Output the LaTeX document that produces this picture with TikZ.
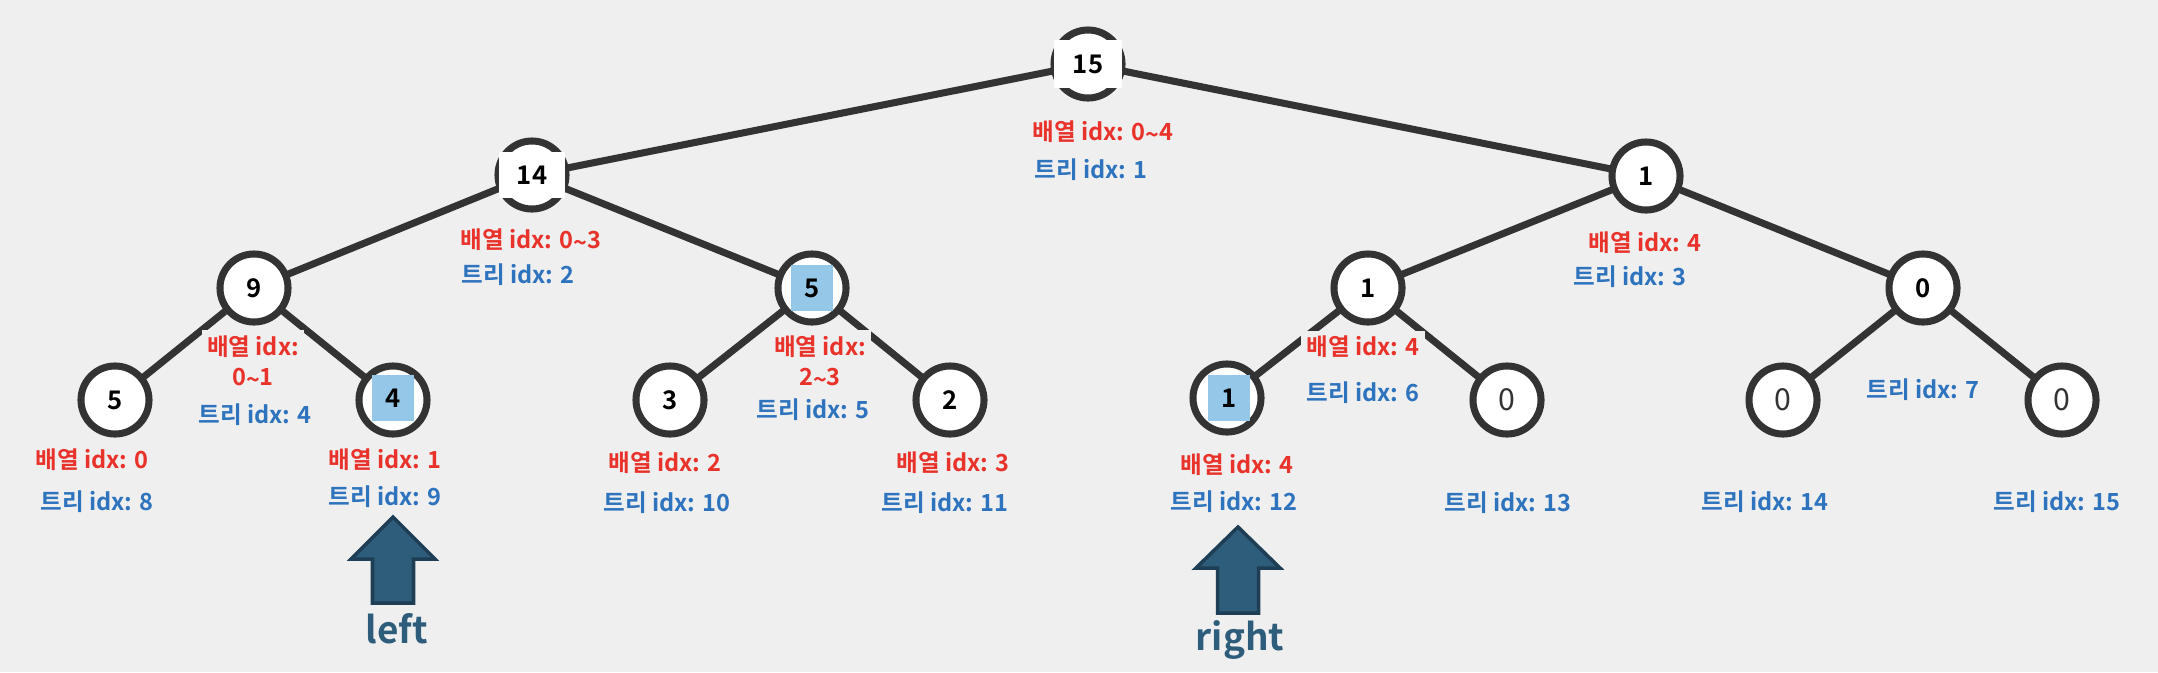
\documentclass[tikz,border=0pt]{standalone}
\usepackage{fontspec}
\setmainfont{Noto Sans CJK KR}[BoldFont={Noto Sans CJK KR Bold}]
\usetikzlibrary{positioning,backgrounds}
\definecolor{bgcol}{RGB}{239,239,239}
\definecolor{edgecol}{RGB}{51,51,51}
\definecolor{idxred}{RGB}{232,50,42}
\definecolor{idxblue}{RGB}{46,115,190}
\definecolor{hlblue}{RGB}{149,200,232}
\definecolor{arrfill}{RGB}{46,93,124}
\definecolor{arrdraw}{RGB}{30,62,85}
\newcommand\valfont{\fontsize{7.3}{8}\selectfont\bfseries}
\newcommand\zerofont{\fontsize{8.6}{9}\selectfont}
\newcommand\idxfont{\fontsize{6.7}{8.6}\selectfont\bfseries}
\newcommand\dirfont{\fontsize{10.5}{12}\selectfont\bfseries}
\newcommand\tld{\raisebox{-0.25ex}{\textasciitilde}}
\tikzset{
treenode/.style = {circle, draw=edgecol, fill=white, line width=2pt, minimum size=#1, inner sep=0pt, font=\valfont},
treenode/.default = 0.68cm % diameter of the circle
}
\tikzset{
valbox/.style = {rectangle, fill=#1, minimum width=0.42cm, minimum height=0.46cm, inner sep=0pt, font=\valfont},
valbox/.default = hlblue
}
\tikzset{edge/.style={draw=edgecol, line width=2pt}}
\tikzset{redlbl/.style={text=idxred, fill=bgcol, font=\idxfont, inner sep=1.5pt, align=center}}
\tikzset{bluelbl/.style={text=idxblue, fill=bgcol, font=\idxfont, inner sep=1.5pt}}
\tikzset{bigarrow/.style={fill=arrfill, draw=arrdraw, line width=1pt, line join=miter}}
\tikzset{dirlbl/.style={text=arrfill, font=\dirfont, inner sep=0pt, anchor=base}}

\begin{document}
\begin{tikzpicture}[x=0.01cm, y=-0.01cm]
    \useasboundingbox (0,0) rectangle (2158,672);
    % tree
    \node [treenode] (n1) at (1088,64) {};
    \node [treenode] (n2) at (532,175) {};
    \node [treenode] (n3) at (1646,176) {1};
    \node [treenode] (n4) at (254,288) {9};
    \node [treenode] (n5) at (812,288) {};
    \node [treenode] (n6) at (1368,288) {1};
    \node [treenode] (n7) at (1923,288) {0};
    \node [treenode] (n8) at (115,400) {5};
    \node [treenode] (n9) at (393,400) {};
    \node [treenode] (n10) at (670,400) {3};
    \node [treenode] (n11) at (950,400) {2};
    \node [treenode] (n12) at (1227,398) {};
    \node [treenode, font=\zerofont, text=edgecol] (n13) at (1507,400) {0};
    \node [treenode, font=\zerofont, text=edgecol] (n14) at (1783,400) {0};
    \node [treenode, font=\zerofont, text=edgecol] (n15) at (2062,400) {0};
    \node [valbox=white, minimum width=0.67cm, minimum height=0.48cm] (v1) at (n1) {15};
    \node [valbox=white, minimum width=0.66cm, minimum height=0.45cm] (v2) at (n2) {14};
    \node [valbox] (v5) at (n5) {5};
    \node [valbox] (v9) at (393,398) {4};
    \node [valbox] (v12) at (1229,398) {1};
    \begin{scope}[on background layer]
    \fill[bgcol] (0,0) rectangle (2158,672);
    \draw[edge] (n1.center) -- (n2.center) (n1.center) -- (n3.center)
        (n2.center) -- (n4.center) (n2.center) -- (n5.center)
        (n3.center) -- (n6.center) (n3.center) -- (n7.center)
        (n4.center) -- (n8.center) (n4.center) -- (n9.center)
        (n5.center) -- (n10.center) (n5.center) -- (n11.center)
        (n6.center) -- (n12.center) (n6.center) -- (n13.center)
        (n7.center) -- (n14.center) (n7.center) -- (n15.center);
    \end{scope}
    % index labels
    \node [redlbl] (a1) at (1103,132) {배열 idx: 0\tld4};
    \node [bluelbl] (t1) at (1091,170) {트리 idx: 1};
    \node [redlbl] (a2) at (531,240) {배열 idx: 0\tld3};
    \node [bluelbl] (t2) at (518,275) {트리 idx: 2};
    \node [redlbl] (a3) at (1645,243) {배열 idx: 4};
    \node [bluelbl] (t3) at (1630,277) {트리 idx: 3};
    \node [redlbl] (a4) at (253,362) {배열 idx:\\0\tld1};
    \node [bluelbl] (t4) at (255,415) {트리 idx: 4};
    \node [redlbl] (a5) at (820,362) {배열 idx:\\2\tld3};
    \node [bluelbl] (t5) at (813,410) {트리 idx: 5};
    \node [redlbl] (a6) at (1363,347) {배열 idx: 4};
    \node [bluelbl] (t6) at (1363,393) {트리 idx: 6};
    \node [bluelbl] (t7) at (1923,390) {트리 idx: 7};
    \node [redlbl] (a8) at (92,460) {배열 idx: 0};
    \node [bluelbl] (t8) at (97,502) {트리 idx: 8};
    \node [redlbl] (a9) at (385,460) {배열 idx: 1};
    \node [bluelbl] (t9) at (385,497) {트리 idx: 9};
    \node [redlbl] (a10) at (665,463) {배열 idx: 2};
    \node [bluelbl] (t10) at (667,503) {트리 idx: 10};
    \node [redlbl] (a11) at (953,463) {배열 idx: 3};
    \node [bluelbl] (t11) at (945,503) {트리 idx: 11};
    \node [redlbl] (a12) at (1237,465) {배열 idx: 4};
    \node [bluelbl] (t12) at (1234,502) {트리 idx: 12};
    \node [bluelbl] (t13) at (1508,503) {트리 idx: 13};
    \node [bluelbl] (t14) at (1765,502) {트리 idx: 14};
    \node [bluelbl] (t15) at (2057,502) {트리 idx: 15};
    % left / right pointers
    \coordinate (ltip) at (393,517);
    \coordinate (rtip) at (1238,527);
    \filldraw[bigarrow] (ltip) -- ++(42,42) -- ++(-21.5,0) -- ++(0,44) -- ++(-41,0)
        -- ++(0,-44) -- ++(-21.5,0) -- cycle;
    \filldraw[bigarrow] (rtip) -- ++(42,41) -- ++(-21.5,0) -- ++(0,45) -- ++(-41,0)
        -- ++(0,-45) -- ++(-21.5,0) -- cycle;
    \node [dirlbl] (left) at (397,643) {left};
    \node [dirlbl] (right) at (1240,650) {right};
\end{tikzpicture}
\end{document}
